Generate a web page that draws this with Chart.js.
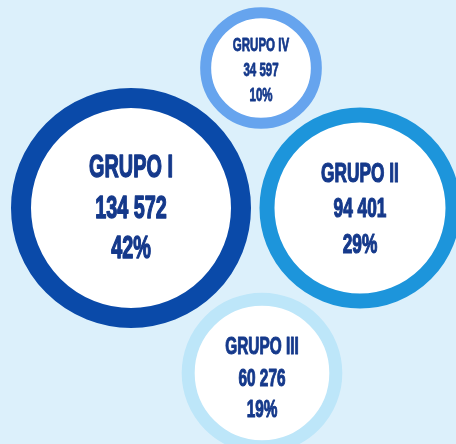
<!DOCTYPE html>
<html>
<head>
<meta charset="utf-8">
<script src="https://cdn.jsdelivr.net/npm/chart.js@4/dist/chart.umd.min.js"></script>
<style>
  html, body { margin: 0; padding: 0; background: #dcf0fb; }
  #wrap { width: 456px; height: 444px; }
</style>
</head>
<body>
<div id="wrap"><canvas id="c" width="456" height="444"></canvas></div>
<script>
// ---- data ----
const groups = ['GRUPO I', 'GRUPO II', 'GRUPO III', 'GRUPO IV'];
const counts = [134572, 94401, 60276, 34597];
const percents = [42, 29, 19, 10];

// ---- layout (bubble placement in an arbitrary 456 x 444 frame) ----
const posX = [131, 360, 262, 261];
const posY = [208, 208, 373, 68];
const ringColors = ['#0a4aa9', '#1d95db', '#bde6f9', '#66a4ee'];
const ringWidths = [20, 15, 13, 11];
const fontSizes = [31, 27, 24, 18];
const textShift = [1, 2, 6, 3];
const lineGap = [1.32, 1.33, 1.32, 1.4];
const maxOuterRadius = 120;

const maxCount = Math.max(...counts);
const fmt = v => String(v).replace(/\B(?=(\d{3})+(?!\d))/g, ' ');

const points = counts.map((v, i) => {
  const outer = maxOuterRadius * Math.sqrt(v / maxCount);
  return { x: posX[i], y: posY[i], r: outer - ringWidths[i] / 2 };
});

const labelPlugin = {
  id: 'bubbleLabels',
  afterDatasetsDraw(chart) {
    const ctx = chart.ctx;
    const meta = chart.getDatasetMeta(0);
    meta.data.forEach((el, i) => {
      const fs = fontSizes[i];
      const lines = [groups[i], fmt(counts[i]), percents[i] + '%'];
      const gap = fs * lineGap[i];
      ctx.save();
      ctx.translate(el.x, el.y + textShift[i]);
      ctx.scale(0.64, 1);
      ctx.fillStyle = '#15398b';
      ctx.strokeStyle = '#15398b';
      ctx.lineWidth = fs * 0.045;
      ctx.lineJoin = 'round';
      ctx.font = 'bold ' + fs + 'px "Liberation Sans", Arial, sans-serif';
      ctx.textAlign = 'center';
      ctx.textBaseline = 'middle';
      lines.forEach((t, k) => {
        ctx.fillText(t, 0, (k - 1) * gap);
        ctx.strokeText(t, 0, (k - 1) * gap);
      });
      ctx.restore();
    });
  }
};

new Chart(document.getElementById('c'), {
  type: 'bubble',
  data: {
    datasets: [{
      data: points,
      backgroundColor: '#ffffff',
      borderColor: ringColors,
      borderWidth: ringWidths,
      hoverBorderWidth: ringWidths,
      clip: false
    }]
  },
  options: {
    responsive: false,
    animation: false,
    events: [],
    layout: { padding: 0, autoPadding: false },
    plugins: { legend: { display: false }, tooltip: { enabled: false } },
    scales: {
      x: { type: 'linear', min: 0, max: 456, display: false },
      y: { type: 'linear', min: 0, max: 444, reverse: true, display: false }
    }
  },
  plugins: [labelPlugin]
});
</script>
</body>
</html>
